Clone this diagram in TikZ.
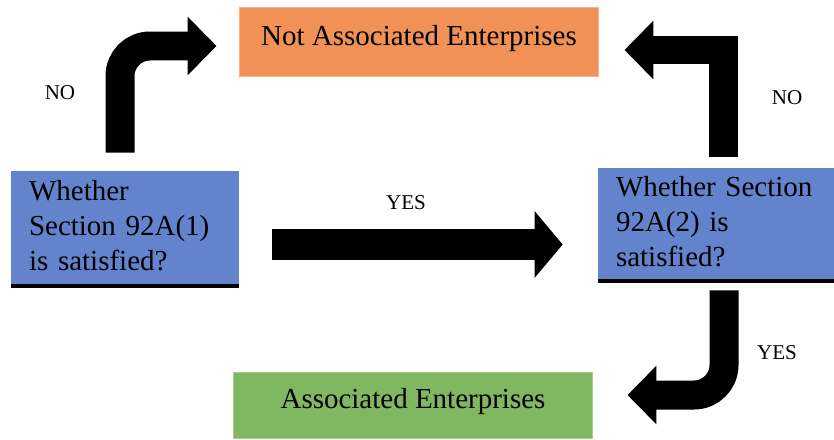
\documentclass[tikz,border=0pt]{standalone}
\usepackage{fontspec}
\setmainfont{Liberation Serif}
\usetikzlibrary{arrows.meta}
\definecolor{aeorange}{RGB}{241,145,86}
\definecolor{aeblue}{RGB}{99,132,204}
\definecolor{aegreen}{RGB}{128,184,98}
\tikzset{resultbox/.style={fill=#1, draw=#1!70!white, line width=0.02cm, minimum width=7.2cm, inner sep=0pt, text depth=0.28cm, font=\fontsize{16.5}{20}\selectfont},
	testbox/.style={fill=aeblue, inner xsep=0.36cm, inner ysep=0pt, text width=#1, text depth=1.58cm, align=left, font=\fontsize{16.5}{20}\selectfont},
	%thick block arrows between the boxes
	bigarrow/.style={line width=0.58cm, -{Triangle[length=0.58cm, width=1.14cm]}},
	answer/.style={font=\fontsize{12}{14}\selectfont}}

\begin{document}
\begin{tikzpicture}[x=0.02cm, y=-0.02cm]
	\useasboundingbox (0,0) rectangle (834,439);
	\node[resultbox=aeorange, minimum height=1.4cm] (notae) at (419,42) {Not Associated Enterprises};
	\node[resultbox=aegreen, minimum height=1.34cm] (ae) at (413,405.5) {Associated Enterprises};
	\node[testbox=3.84cm, minimum height=2.34cm] (q1) at (125,229.5) {Whether\\ Section 92A(1)\\ is satisfied?};
	\node[testbox=4cm, minimum height=2.3cm] (q2) at (716,225.5) {Whether Section\\ 92A(2) is\\ satisfied?};
	%black rule under the two questions
	\draw[line width=0.08cm] ([yshift=0.04cm]q1.south west) -- ([yshift=0.04cm]q1.south east);
	\draw[line width=0.08cm] ([yshift=0.04cm]q2.south west) -- ([yshift=0.04cm]q2.south east);

	\draw[bigarrow, rounded corners=0.6cm, shorten <=0.36cm, shorten >=0.44cm] ([xshift=-0.1cm]q1.north) |- ([yshift=-0.08cm]notae.west);
	\draw[bigarrow, -{Triangle[length=0.56cm, width=1.3cm]}, line width=0.62cm, shorten <=0.66cm, shorten >=0.7cm] ([yshift=-0.3cm]q1.east) -- ([yshift=-0.3cm]q1.east -| q2.west);
	\draw[bigarrow, shorten <=0.22cm, shorten >=0.5cm] ([xshift=0.14cm]q2.north) |- ([yshift=-0.16cm]notae.east);
	\draw[bigarrow, rounded corners=0.6cm, shorten <=0.14cm, shorten >=0.68cm] ([xshift=0.16cm]q2.south) |- ([yshift=0.21cm]ae.east);

	\node[answer] (no1) at (60,93) {NO};
	\node[answer] (yes1) at (406,203) {YES};
	\node[answer] (no2) at (787,98) {NO};
	\node[answer] (yes2) at (777,353) {YES};
\end{tikzpicture}
\end{document}
